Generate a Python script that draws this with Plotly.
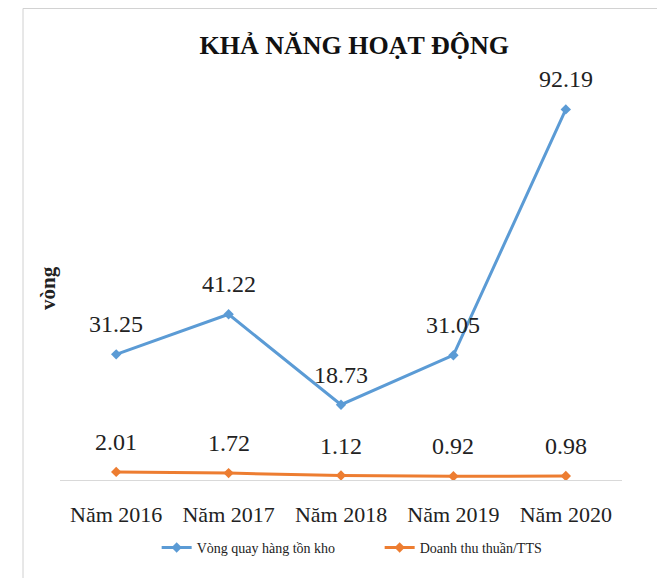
import plotly.graph_objects as go

years = ["Năm 2016", "Năm 2017", "Năm 2018", "Năm 2019", "Năm 2020"]
vong_quay = [31.25, 41.22, 18.73, 31.05, 92.19]
doanh_thu = [2.01, 1.72, 1.12, 0.92, 0.98]

BLUE = "#5B9BD5"
ORANGE = "#ED7D31"
SERIF = "Liberation Serif, Times New Roman, serif"

fig = go.Figure()
fig.add_trace(go.Scatter(
    x=years, y=vong_quay, name="Vòng quay hàng tồn kho", mode="lines+markers",
    line=dict(color=BLUE, width=3), marker=dict(symbol="diamond", size=8, color=BLUE),
))
fig.add_trace(go.Scatter(
    x=years, y=doanh_thu, name="Doanh thu thuần/TTS", mode="lines+markers",
    line=dict(color=ORANGE, width=3), marker=dict(symbol="diamond", size=8, color=ORANGE),
))

# data labels above each point
annotations = []
for series in (vong_quay, doanh_thu):
    for x, v in zip(years, series):
        annotations.append(dict(x=x, y=v, text=f"{v:.2f}", showarrow=False,
                                yshift=30, yanchor="middle",
                                font=dict(size=24, family=SERIF, color="#222")))
annotations.append(dict(text="<b>vòng</b>", xref="paper", yref="paper",
                        x=-0.021, y=0.478, xanchor="center", yanchor="middle",
                        textangle=-90, showarrow=False,
                        font=dict(size=21, family=SERIF, color="#222")))

fig.update_layout(
    width=657, height=570,
    margin=dict(l=52, r=43, t=70, b=98),
    paper_bgcolor="white", plot_bgcolor="white",
    font=dict(family=SERIF, color="#222"),
    title=dict(text="<b>KHẢ NĂNG HOẠT ĐỘNG</b>", x=0.527, xanchor="center",
               y=0.935, yanchor="middle", font=dict(size=26, family=SERIF, color="#111")),
    showlegend=True,
    legend=dict(orientation="h", x=0.172, xanchor="left", y=-0.169, yanchor="middle",
                font=dict(size=14, family=SERIF), entrywidth=178, entrywidthmode="pixels"),
    xaxis=dict(range=[-0.5, 4.5], showgrid=False, showline=True, linecolor="#D9D9D9",
               linewidth=1, ticks="", ticklabelstandoff=15,
               tickfont=dict(size=22, family=SERIF, color="#222")),
    yaxis=dict(range=[0, 100], showgrid=False, showticklabels=False, zeroline=False),
    annotations=annotations,
    shapes=[
        dict(type="line", xref="paper", yref="paper", x0=-0.0658, x1=-0.0658,
             y0=-0.4, y1=1.173, line=dict(color="#D0D0D0", width=1)),
        dict(type="line", xref="paper", yref="paper", x0=-0.0658, x1=1.3,
             y0=1.173, y1=1.173, line=dict(color="#D0D0D0", width=1)),
    ],
)

fig.write_html("out.html")
